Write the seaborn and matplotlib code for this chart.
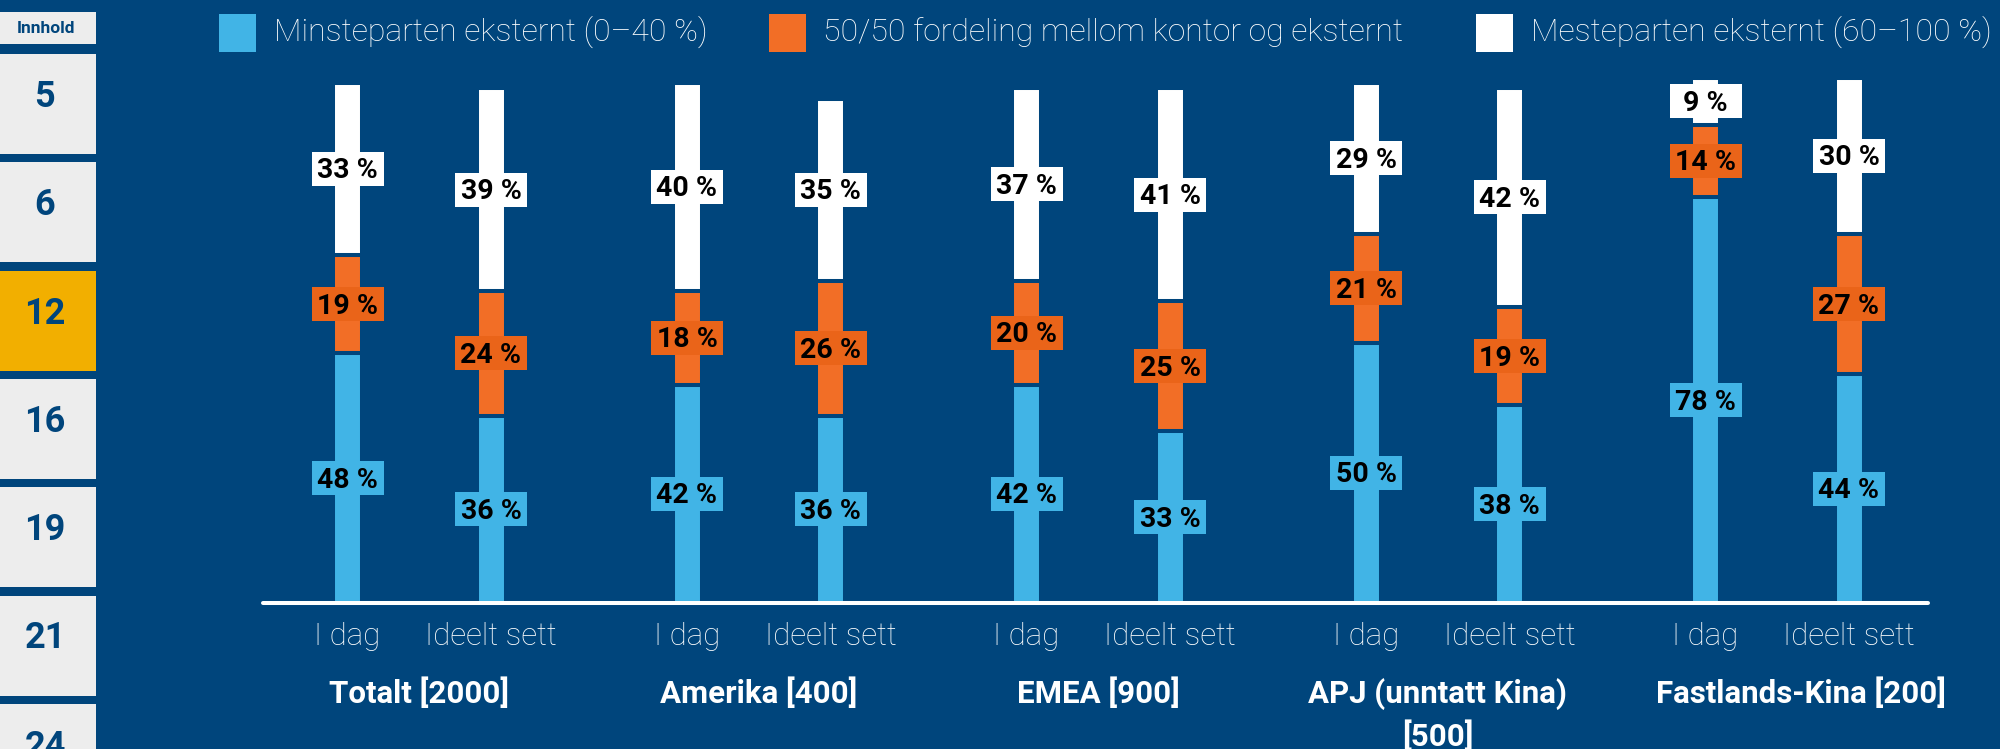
import numpy as np
import pandas as pd
import matplotlib
matplotlib.use("Agg")
import matplotlib.pyplot as plt
from matplotlib.patches import Rectangle
from matplotlib.transforms import blended_transform_factory
import seaborn as sns

# ---- data -------------------------------------------------------------
regions = ["Totalt [2000]", "Amerika [400]", "EMEA [900]",
           "APJ (unntatt Kina)\n[500]", "Fastlands-Kina [200]"]
periods = ["I dag", "Ideelt sett"]
# share of respondents per bar (I dag / Ideelt sett for each region)
minority = [48, 36, 42, 36, 42, 33, 50, 38, 78, 44]
split = [19, 24, 18, 26, 20, 25, 21, 19, 14, 27]
majority = [33, 39, 40, 35, 37, 41, 29, 42, 9, 30]
legend_labels = ["Minsteparten eksternt (0–40 %)",
                 "50/50 fordeling mellom kontor og eksternt",
                 "Mesteparten eksternt (60–100 %)"]
nav_title = "Innhold"
nav_pages = ["5", "6", "12", "16", "19", "21", "24"]
active_page = "12"

# ---- style -------------------------------------------------------------
BG = "#00457C"
BLUE = "#41B4E6"
ORANGE = "#F26E26"
ORANGE_TAG = "#EA6419"
WHITE = "#FFFFFF"
TILE = "#EDEDED"
TILE_ACTIVE = "#F2AF00"

sns.set_theme(style="white")
plt.rcParams["font.family"] = ["Roboto", "DejaVu Sans"]

W, H, DPI = 2000, 749, 100
fig = plt.figure(figsize=(W / DPI, H / DPI), dpi=DPI, facecolor=BG)

# plotting area in pixel terms
AX_L, AX_R, AX_BASE, AX_TOP = 263, 1928, 603, 60
PX_PER_PCT = 5.2
ax = fig.add_axes([AX_L / W, (H - AX_BASE) / H, (AX_R - AX_L) / W,
                   (AX_BASE - AX_TOP) / H])
ax.set_facecolor(BG)

# bar positions (x axis measured in pixels from the left of the plot area)
FIRST, GROUP_STEP, PAIR_STEP = 84.5, 339.5, 143.5
rows = []
for g, region in enumerate(regions):
    for m, period in enumerate(periods):
        i = g * 2 + m
        rows.append({"pos": FIRST + g * GROUP_STEP + m * PAIR_STEP,
                     "region": region, "period": period,
                     "minority": minority[i], "split": split[i],
                     "majority": majority[i]})
df = pd.DataFrame(rows)
df["mid"] = df["minority"] + df["split"]
df["top"] = df["mid"] + df["majority"]

BAR_W = 29 / PAIR_STEP
common = dict(x="pos", native_scale=True, width=BAR_W, saturation=1,
              errorbar=None, edgecolor=BG, linewidth=2.9, ax=ax)
sns.barplot(data=df, y="top", color=WHITE, **common)
sns.barplot(data=df, y="mid", color=ORANGE, **common)
sns.barplot(data=df, y="minority", color=BLUE, **common)

ax.set_xlim(0, AX_R - AX_L)
ax.set_ylim(0, (AX_BASE - AX_TOP) / PX_PER_PCT)
for s in ax.spines.values():
    s.set_visible(False)
ax.set_xlabel("")
ax.set_ylabel("")
ax.set_yticks([])
ax.axhline(0, color=WHITE, lw=2.9, zorder=5, clip_on=False)

# value tags centred on each segment
TAG_W, TAG_H = 72, 34 / PX_PER_PCT
TXT_DROP = 9.5 / PX_PER_PCT
for _, r in df.iterrows():
    segs = [(0, r["minority"], BLUE),
            (r["minority"], r["split"], ORANGE_TAG),
            (r["mid"], r["majority"], WHITE)]
    for bottom, val, col in segs:
        yc = bottom + val / 2
        ax.add_patch(Rectangle((r["pos"] - TAG_W / 2, yc - TAG_H / 2),
                               TAG_W, TAG_H, facecolor=col,
                               edgecolor="none", zorder=6))
        ax.text(r["pos"], yc - TXT_DROP, f"{val} %", ha="center",
                va="baseline", fontsize=20.5, fontweight="bold",
                color="black", zorder=7)

# category labels
ax.set_xticks(df["pos"])
ax.set_xticklabels(df["period"], fontweight="light", va="baseline")
ax.tick_params(axis="x", length=0, pad=30.2, colors=WHITE, labelsize=22.5)

# region names under each pair, one text line per row
blend = blended_transform_factory(ax.transData, ax.transAxes)
span = AX_BASE - AX_TOP
name_shift = [0, 0, 0, 0, 24]
for g, region in enumerate(regions):
    cx = FIRST + g * GROUP_STEP + PAIR_STEP / 2 + name_shift[g]
    for li, line in enumerate(region.split("\n")):
        base_px = 703 + li * 43
        ax.text(cx, (AX_BASE - base_px) / span, line, transform=blend,
                ha="center", va="baseline", fontsize=22.5,
                fontweight="bold", color=WHITE)

# legend across the top
def fx(px):
    return px / W

def fy(py):
    return (H - py) / H

legend_items = [(219, 274, BLUE), (769, 823, ORANGE), (1476, 1531, WHITE)]
for (sq_x, tx, col), lab in zip(legend_items, legend_labels):
    fig.add_artist(Rectangle((fx(sq_x), fy(52)), 37 / W, 38 / H,
                             transform=fig.transFigure, facecolor=col,
                             edgecolor="none"))
    fig.text(fx(tx), fy(41), lab, ha="left", va="baseline", fontsize=23,
             fontweight="light", color=WHITE)

# page navigation strip on the left
fig.add_artist(Rectangle((0, fy(44)), 96 / W, 32 / H, transform=fig.transFigure,
                         facecolor=TILE, edgecolor="none"))
fig.text(fx(46), fy(33), nav_title, ha="center", va="baseline", fontsize=12.5,
         fontweight="bold", color=BG)
for k, page in enumerate(nav_pages):
    top = 54 + k * 108.3
    col = TILE_ACTIVE if page == active_page else TILE
    fig.add_artist(Rectangle((0, fy(top + 100)), 96 / W, 100 / H,
                             transform=fig.transFigure, facecolor=col,
                             edgecolor="none"))
    fig.text(fx(45), fy(top + 53), page, ha="center", va="baseline",
             fontsize=26, fontweight="bold", color=BG)

fig.savefig("out.png", dpi=DPI, facecolor=BG)
